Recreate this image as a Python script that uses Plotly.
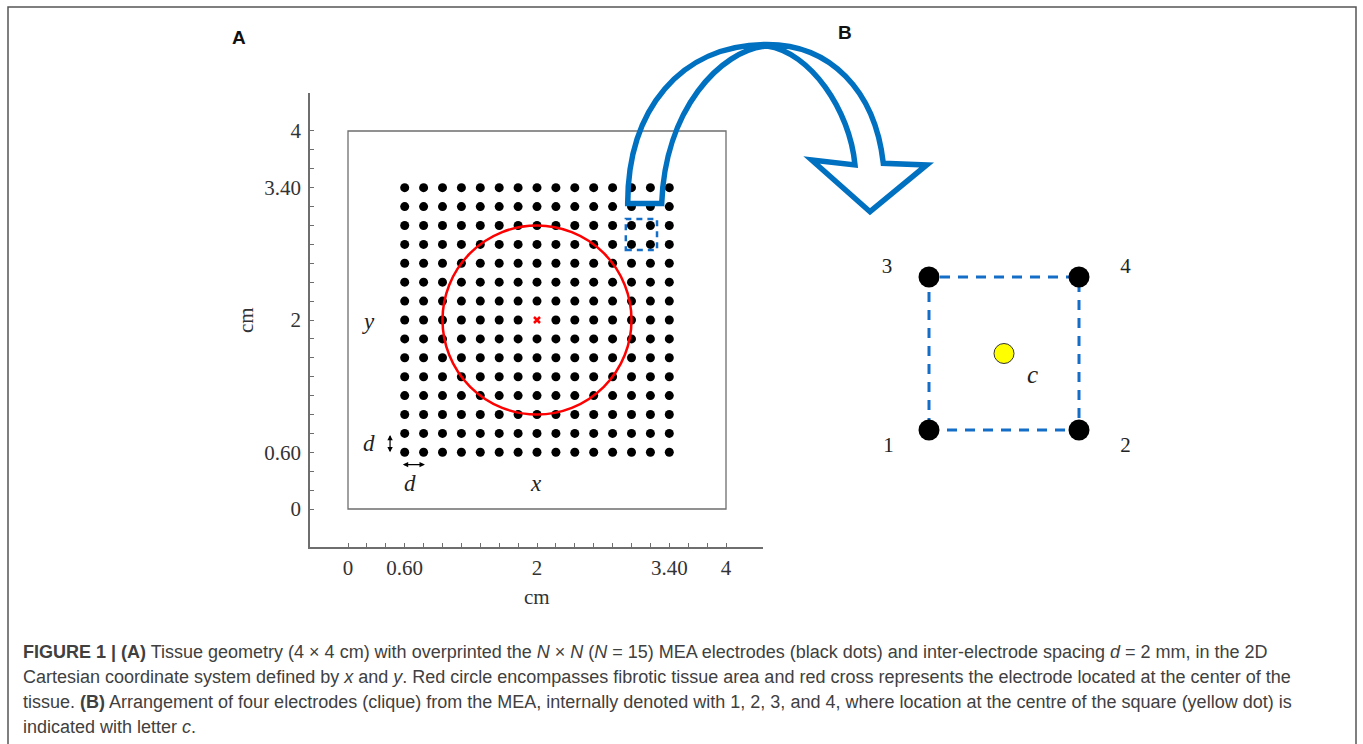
import plotly.graph_objects as go

W, H = 1363, 744

# ---------------- data ----------------
# MEA grid (N x N, N = 15), spacing d = 0.2 cm, from 0.6 to 3.4 cm
grid_positions = [0.6, 0.8, 1.0, 1.2, 1.4, 1.6, 1.8, 2.0, 2.2, 2.4, 2.6, 2.8, 3.0, 3.2, 3.4]
center_electrode = (2.0, 2.0)
fibrosis_radius = 1.0
tissue_size = 4.0
clique_box = (2.94, 3.27, 2.74, 3.07)  # x0, x1, y0, y1

axis_tick_vals = [0.0, 0.2, 0.4, 0.6, 0.8, 1.0, 1.2, 1.4, 1.6, 1.8, 2.0,
                  2.2, 2.4, 2.6, 2.8, 3.0, 3.2, 3.4, 3.6, 3.8, 4.0]
axis_tick_labels = {0.0: "0", 0.6: "0.60", 2.0: "2", 3.4: "3.40", 4.0: "4"}

# Panel B clique
clique_x = [0, 1, 0, 1]
clique_y = [0, 0, 1, 1]
clique_labels = ["1", "2", "3", "4"]
clique_label_x = [-0.27, 1.31, -0.28, 1.31]
clique_label_y = [-0.11, -0.11, 1.06, 1.06]
center_c = (0.5, 0.5)

# Decorative curved arrow outline (pixel space of the reference image)
arrow_tail = [(627.7, 203.5), (661.7, 203.5)]
arrow_top = (767.0, 44.5)
arrow_head = [(883.3, 163.3), (926.7, 165.0), (870.0, 211.7), (811.7, 160.0), (855.0, 165.0)]

caption_lines = [
    "<b>FIGURE 1 | (A)</b> Tissue geometry (4 × 4 cm) with overprinted the <i>N</i> × <i>N</i> (<i>N</i> = 15) MEA electrodes (black dots) and inter-electrode spacing <i>d</i> = 2 mm, in the 2D",
    "Cartesian coordinate system defined by <i>x</i> and <i>y</i>. Red circle encompasses fibrotic tissue area and red cross represents the electrode located at the center of the",
    "tissue. <b>(B)</b> Arrangement of four electrodes (clique) from the MEA, internally denoted with 1, 2, 3, and 4, where location at the centre of the square (yellow dot) is",
    "indicated with letter <i>c</i>.",
]

# ---------------- helpers ----------------
def pxx(x):
    return x / W

def pxy(y):
    return 1 - y / H

def P(x, y):
    return f"{pxx(x):.5f},{pxy(y):.5f}"

SERIF = "Liberation Serif, DejaVu Serif, serif"
SANS = "Liberation Sans, Arial, sans-serif"
BLUE = "rgb(0,112,192)"
DASHBLUE = "rgb(20,110,200)"
GRAY = "#6e6e6e"

fig = go.Figure()

# electrodes (all but the centre one)
ex, ey = [], []
for gy in grid_positions:
    for gx in grid_positions:
        if (gx, gy) != center_electrode:
            ex.append(gx)
            ey.append(gy)
fig.add_trace(go.Scatter(x=ex, y=ey, mode="markers",
                         marker=dict(size=9, color="black"),
                         hoverinfo="skip", showlegend=False))
fig.add_trace(go.Scatter(x=[center_electrode[0]], y=[center_electrode[1]], mode="markers",
                         marker=dict(size=6, color="red", symbol="x-thin",
                                     line=dict(color="red", width=2.5)),
                         hoverinfo="skip", showlegend=False))

# panel B
order = [0, 1, 3, 2, 0]
fig.add_trace(go.Scatter(x=[clique_x[i] for i in order], y=[clique_y[i] for i in order],
                         mode="lines", line=dict(color=DASHBLUE, width=3, dash="10px,8px"),
                         xaxis="x2", yaxis="y2", hoverinfo="skip", showlegend=False))
fig.add_trace(go.Scatter(x=clique_x, y=clique_y, mode="markers",
                         marker=dict(size=21, color="black"),
                         xaxis="x2", yaxis="y2", hoverinfo="skip", showlegend=False))
fig.add_trace(go.Scatter(x=[center_c[0]], y=[center_c[1]], mode="markers",
                         marker=dict(size=20, color="#ffff00", line=dict(color="#333", width=1)),
                         xaxis="x2", yaxis="y2", hoverinfo="skip", showlegend=False))
fig.add_trace(go.Scatter(x=clique_label_x, y=clique_label_y, mode="text", text=clique_labels,
                         textfont=dict(family=SERIF, size=21, color="#222"),
                         xaxis="x2", yaxis="y2", hoverinfo="skip", showlegend=False))
fig.add_trace(go.Scatter(x=[0.69], y=[0.35], mode="text", text=["<i>c</i>"],
                         textfont=dict(family=SERIF, size=25, color="#222"),
                         xaxis="x2", yaxis="y2", hoverinfo="skip", showlegend=False))

shapes = []
# tissue square
shapes.append(dict(type="rect", xref="x", yref="y", x0=0, y0=0, x1=tissue_size, y1=tissue_size,
                   line=dict(color=GRAY, width=1.3), layer="below"))
# fibrotic circle
shapes.append(dict(type="circle", xref="x", yref="y",
                   x0=center_electrode[0] - fibrosis_radius, x1=center_electrode[0] + fibrosis_radius,
                   y0=center_electrode[1] - fibrosis_radius, y1=center_electrode[1] + fibrosis_radius,
                   line=dict(color="red", width=2.5)))
# clique box
shapes.append(dict(type="rect", xref="x", yref="y",
                   x0=clique_box[0], x1=clique_box[1], y0=clique_box[2], y1=clique_box[3],
                   line=dict(color=DASHBLUE, width=2.5, dash="6px,5px")))

# curved arrow path (paper coordinates)
(t0x, t0y), (t1x, t1y) = arrow_tail
tx, ty = arrow_top
(h0x, h0y), (h1x, h1y), (h2x, h2y), (h3x, h3y), (h4x, h4y) = arrow_head
path = (f"M {P(t0x, t0y)} C {P(t0x, 110)} {P(680, ty)} {P(tx, ty)} "
        f"C {P(830, ty)} {P(875, 90)} {P(h0x, h0y)} "
        f"L {P(h1x, h1y)} L {P(h2x, h2y)} L {P(h3x, h3y)} L {P(h4x, h4y)} "
        f"C {P(850, 110)} {P(810, 52)} {P(tx, ty + 1.5)} "
        f"C {P(720, 50)} {P(665, 110)} {P(t1x, t1y)} Z")
shapes.append(dict(type="path", xref="paper", yref="paper", path=path,
                   line=dict(color=BLUE, width=5.5), fillcolor="rgba(0,0,0,0)"))

# outer frame
shapes.append(dict(type="rect", xref="paper", yref="paper",
                   x0=pxx(8), x1=pxx(1356), y0=pxy(760), y1=pxy(7),
                   line=dict(color="#555", width=1.5)))

annotations = []
# d arrows
for (x, y, ax, ay) in [(0.445, 0.6, 0.445, 0.8), (0.58, 0.47, 0.83, 0.47)]:
    annotations.append(dict(x=x, y=y, ax=ax, ay=ay, xref="x", yref="y", axref="x", ayref="y",
                            text="", showarrow=True, arrowhead=2, arrowside="end+start",
                            arrowsize=0.9, arrowwidth=1.2, arrowcolor="black", startarrowhead=2,
                            startarrowsize=0.9, standoff=0, startstandoff=0))
for txt, x, y in [("<i>y</i>", 0.22, 1.98), ("<i>x</i>", 1.99, 0.265),
                  ("<i>d</i>", 0.22, 0.69), ("<i>d</i>", 0.66, 0.265)]:
    annotations.append(dict(x=x, y=y, xref="x", yref="y", text=txt, showarrow=False,
                            xanchor="center", yanchor="middle",
                            font=dict(family=SERIF, size=23, color="#222")))
# axis titles
annotations.append(dict(x=pxx(537), y=pxy(597), xref="paper", yref="paper", text="cm",
                        xanchor="center", yanchor="middle",
                        showarrow=False, font=dict(family=SERIF, size=21, color="#333")))
annotations.append(dict(x=pxx(246), y=pxy(320), xref="paper", yref="paper", text="cm",
                        xanchor="center", yanchor="middle",
                        textangle=-90, showarrow=False, font=dict(family=SERIF, size=21, color="#333")))
# panel letters
annotations.append(dict(x=pxx(239), y=pxy(38), xref="paper", yref="paper", text="<b>A</b>",
                        xanchor="center", yanchor="middle",
                        showarrow=False, font=dict(family=SANS, size=19, color="#111")))
annotations.append(dict(x=pxx(845), y=pxy(33), xref="paper", yref="paper", text="<b>B</b>",
                        xanchor="center", yanchor="middle",
                        showarrow=False, font=dict(family=SANS, size=19, color="#111")))
# caption
for i, line in enumerate(caption_lines):
    annotations.append(dict(x=pxx(21), y=pxy(652 + 25 * i), xref="paper", yref="paper",
                            xanchor="left", yanchor="middle", text=line, showarrow=False,
                            font=dict(family=SANS, size=18, color="#404040")))

tick_text = [axis_tick_labels.get(v, "") for v in axis_tick_vals]
axis_common = dict(tickmode="array", tickvals=axis_tick_vals, ticktext=tick_text,
                   ticks="inside", ticklen=4, tickwidth=1, tickcolor=GRAY,
                   showline=True, linecolor=GRAY, linewidth=1.5, mirror=False,
                   showgrid=False, zeroline=False,
                   tickfont=dict(family=SERIF, size=21, color="#333"))

fig.update_layout(
    width=W, height=H, margin=dict(l=0, r=0, t=0, b=0),
    paper_bgcolor="white", plot_bgcolor="rgba(0,0,0,0)",
    xaxis=dict(domain=[pxx(310), pxx(763)], range=[-0.4021, 4.3915], anchor="y",
               ticklabelstandoff=1, **axis_common),
    yaxis=dict(domain=[pxy(547), pxy(93)], range=[-0.4021, 4.402], anchor="x",
               ticklabelstandoff=3, **axis_common),
    xaxis2=dict(domain=[pxx(855), pxx(1155)], range=[-0.4933, 1.5067], anchor="y2",
                visible=False),
    yaxis2=dict(domain=[pxy(470), pxy(240)], range=[-0.2614, 1.2418], anchor="x2",
                visible=False),
    shapes=shapes, annotations=annotations,
)

# remove the browser's default 8px body margin so the figure sits at the page origin
fig.write_html("out.html", config={"displayModeBar": False},
               post_script="document.body.style.margin='0';document.body.style.overflow='hidden';")
